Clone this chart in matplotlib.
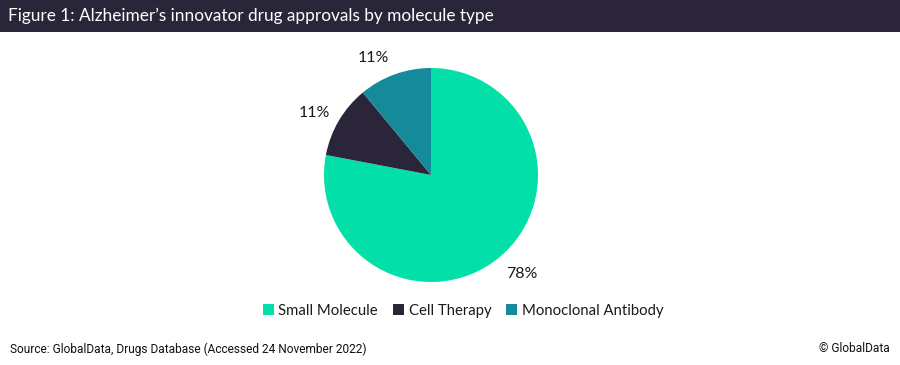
import matplotlib
matplotlib.use("Agg")
import matplotlib.pyplot as plt
from matplotlib.patches import Rectangle

# Data
categories = ["Small Molecule", "Cell Therapy", "Monoclonal Antibody"]
shares = [78, 11, 11]
share_labels = ["78%", "11%", "11%"]
colors = ["#03DFA8", "#2B2539", "#148A9B"]

title = "Figure 1: Alzheimer\u2019s innovator drug approvals by molecule type"
source = "Source: GlobalData, Drugs Database (Accessed 24 November 2022)"
credit = "\u00a9 GlobalData"

W, H = 900, 365
fig = plt.figure(figsize=(W / 100, H / 100), dpi=100)
fig.patch.set_facecolor("white")

# title bar
fig.patches.append(Rectangle((0, 1 - 32 / H), 1, 32 / H, transform=fig.transFigure,
                             facecolor="#2B2539", edgecolor="none", zorder=0))
fig.text(8 / W, 1 - 16 / H, title, color="white", fontsize=12.4,
         family="Lato", va="center", ha="left")

# pie, centre (431,175) px, radius 107 px
cx, cy, r = 431, 175, 107
ax = fig.add_axes([(cx - r) / W, (H - cy - r) / H, 2 * r / W, 2 * r / H])
wedges, _ = ax.pie(shares, colors=colors, startangle=90, counterclock=False,
                   radius=1, wedgeprops=dict(linewidth=0))
ax.set_xlim(-1, 1)
ax.set_ylim(-1, 1)
ax.set_aspect("equal")
ax.axis("off")

# value labels placed like the Excel original (radius units)
label_pos = [(0.85, -0.925), (-1.09, 0.58), (-0.54, 1.09)]
for (lx, ly), txt in zip(label_pos, share_labels):
    ax.text(lx, ly, txt, ha="center", va="center", fontsize=11.5,
            family="Lato", color="#1a1a1a", clip_on=False)

leg = fig.legend(wedges, categories, loc="center", ncol=3,
                 bbox_to_anchor=(0.5 + 13 / W, 1 - 311 / H), frameon=False,
                 handlelength=0.75, handleheight=0.75, handletextpad=0.3,
                 columnspacing=1.0, prop=dict(family="Lato", size=10.7))
for t in leg.get_texts():
    t.set_color("#1a1a1a")

fig.text(10 / W, 1 - 349 / H, source, fontsize=8.6, family="Roboto",
         va="center", ha="left", color="#111111")
fig.text(1 - 10 / W, 1 - 349 / H, credit, fontsize=8.6, family="Roboto",
         va="center", ha="right", color="#111111")

fig.savefig("out.png", dpi=100)
